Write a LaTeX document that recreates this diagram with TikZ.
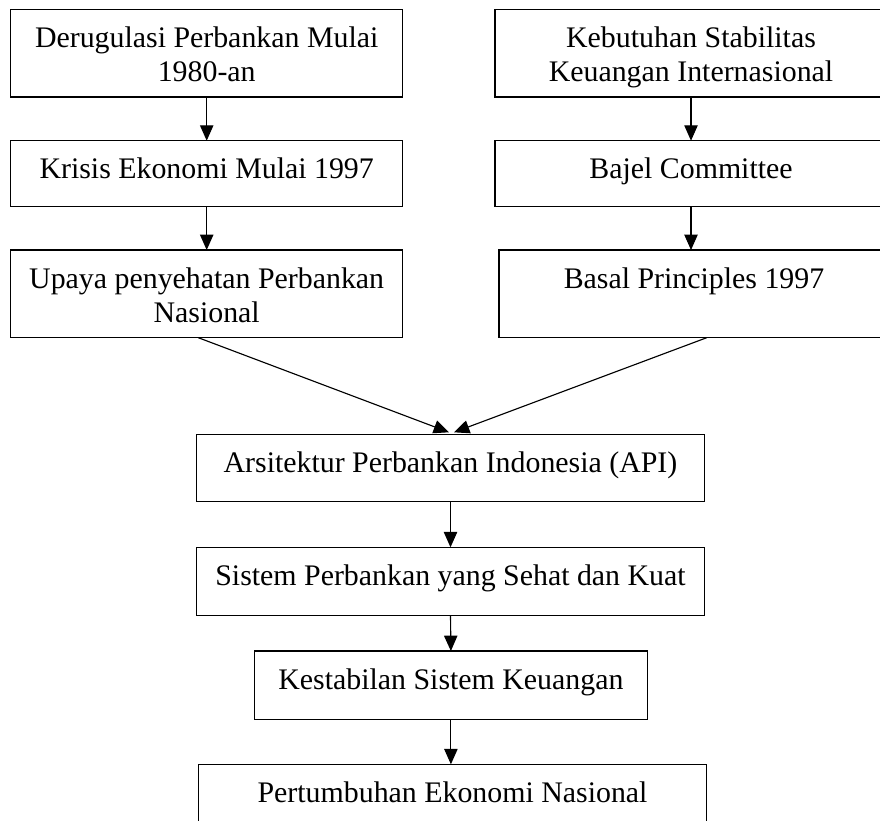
\documentclass[tikz,border=0pt]{standalone}
\usepackage{fontspec}
\setmainfont{Liberation Serif}
\usetikzlibrary{arrows.meta,calc}
\newlength\pxu
\setlength\pxu{0.75pt}
\newcommand\boxnode[6]{%
  \node[box, anchor=north west] (#1) at (#2,#3)
    {\parbox[t][#5\pxu][t]{#4\pxu}{\centering\rule{0pt}{28.6pt}#6}};}
\begin{document}
\begin{tikzpicture}[x=0.75pt, y=-0.75pt,
  box/.style={draw=black, line width=0.8pt, inner sep=0pt, outer sep=0pt,
    font=\fontsize{22.4pt}{25.5pt}\selectfont},
  arr/.style={line width=0.85pt, -{Triangle[length=11.5pt,width=10pt]}}]
\useasboundingbox (0,0) rectangle (880,820);
\clip (0,0) rectangle (880,820);
% left column
\boxnode{b1}{10.7}{9.3}{392}{87.7}{Derugulasi Perbankan Mulai\\1980-an}
\boxnode{b2}{10.7}{140.7}{392}{65.6}{Krisis Ekonomi Mulai 1997}
\boxnode{b3}{10.7}{250}{392}{87.7}{Upaya penyehatan Perbankan\\Nasional}
% right column
\boxnode{r1}{495}{9.3}{392}{87.7}{Kebutuhan Stabilitas\\Keuangan Internasional}
\boxnode{r2}{495}{140.7}{392}{65.6}{Bajel Committee}
\boxnode{r3}{499}{250}{390}{87.7}{Basal Principles 1997}
% center column
\boxnode{api}{196.5}{434.3}{508}{67.5}{Arsitektur Perbankan Indonesia (API)}
\boxnode{sis}{196.5}{547.3}{508}{67.8}{Sistem Perbankan yang Sehat dan Kuat}
\boxnode{kes}{254.4}{651}{393}{68.1}{Kestabilan Sistem Keuangan}
\boxnode{per}{198.9}{764.3}{507.3}{90}{Pertumbuhan Ekonomi Nasional}
% connectors
\draw[arr] (b1.south) -- (b2.north);
\draw[arr] (b2.south) -- (b3.north);
\draw[arr] (r1.south) -- (r2.north);
\draw[arr] (r2.south) -- (r2.south |- r3.north);
\coordinate (lstart) at ($(b3.south west)+(187.6,0)$);
\coordinate (rstart) at ($(r3.south west)+(207.7,0)$);
\coordinate (ltip) at ($(api.north)+(-1.5,-2)$);
\coordinate (rtip) at ($(api.north)+(3.5,-2)$);
\draw[arr] (lstart) -- (ltip);
\draw[arr] (rstart) -- (rtip);
\draw[arr] (api.south) -- (sis.north);
\draw[arr] (sis.south) -- (kes.north);
\draw[arr] (kes.south) -- (kes.south |- per.north);
\end{tikzpicture}
\end{document}
